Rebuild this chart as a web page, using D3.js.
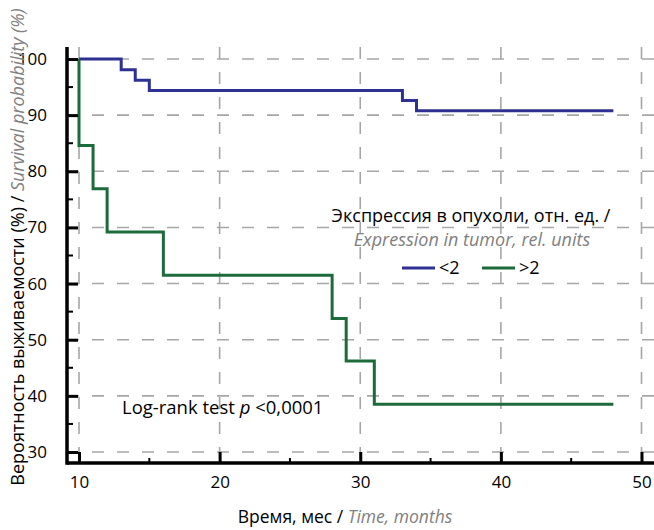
<!DOCTYPE html>
<html><head><meta charset="utf-8">
<script src="https://cdn.jsdelivr.net/npm/d3@7"></script>
<style>body{margin:0;background:#fff}svg{display:block}text{font-family:"Open Sans","Noto Sans",sans-serif}</style>
</head><body><svg id="c" width="654" height="530"></svg>
<script>
// Data
const lowTimes = [10, 13, 14, 15, 33, 34, 48];
const lowSurv  = [100, 98.1, 96.2, 94.4, 92.6, 90.8, 90.8];
const highTimes = [10, 10, 11, 12, 16, 28, 29, 31, 48];
const highSurv  = [100, 84.6, 76.9, 69.2, 61.5, 53.8, 46.2, 38.5, 38.5];
const xTicks = [10, 20, 30, 40, 50];
const yTicks = [30, 40, 50, 60, 70, 80, 90, 100];
const xMinor = [15, 25, 35, 45];
const yMinor = [35, 45, 55, 65, 75, 85, 95];
const seriesNames = ["<2", ">2"];
const colors = ["#2e3192", "#1d6b3a"];

const svg = d3.select("#c");
const x = d3.scaleLinear().domain([10, 50]).range([79, 641.5]);
const y = d3.scaleLinear().domain([30, 100]).range([452, 59]);
const xL = x.invert(67), xR = x.invert(654);
const yB = y.invert(463), yT = y.invert(47);

// grid
const g = svg.append("g");
g.selectAll(".gx").data(xTicks).join("line")
  .attr("x1", d => x(d)).attr("x2", d => x(d)).attr("y1", y(yT)).attr("y2", y(yB))
  .attr("stroke", "#a6a6a6").attr("stroke-width", 1.6).attr("stroke-dasharray", "12,13");
g.selectAll(".gy").data(yTicks).join("line")
  .attr("x1", x(xL)).attr("x2", x(xR)).attr("y1", d => y(d)).attr("y2", d => y(d))
  .attr("stroke", "#a6a6a6").attr("stroke-width", 1.6).attr("stroke-dasharray", "12,13");

// curves
const line = d3.line().x(d => x(d[0])).y(d => y(d[1])).curve(d3.curveStepAfter);
const series = [d3.zip(lowTimes, lowSurv), d3.zip(highTimes, highSurv)];
series.forEach((s, i) => {
  svg.append("path").attr("d", line(s)).attr("fill", "none")
    .attr("stroke", colors[i]).attr("stroke-width", 3);
});

// axes
const ax = svg.append("g").attr("transform", `translate(0,${y(yB)})`)
  .call(d3.axisBottom(x).tickValues(xTicks).tickSize(-11).tickPadding(13).tickFormat(d3.format("d")));
ax.select(".domain").remove();
ax.selectAll(".tick line").attr("stroke", "#000").attr("stroke-width", 3);
ax.selectAll(".tick text").attr("font-size", 17).attr("fill", "#000");
ax.append("g").selectAll("line").data(xMinor).join("line")
  .attr("x1", d => x(d)).attr("x2", d => x(d)).attr("y1", 0).attr("y2", -5)
  .attr("stroke", "#000").attr("stroke-width", 2);

const ay = svg.append("g").attr("transform", `translate(${x(xL)},0)`)
  .call(d3.axisLeft(y).tickValues(yTicks).tickSize(-11).tickPadding(20).tickFormat(d3.format("d")));
ay.select(".domain").remove();
ay.selectAll(".tick line").attr("stroke", "#000").attr("stroke-width", 3);
ay.selectAll(".tick text").attr("font-size", 17).attr("fill", "#000");
ay.append("g").selectAll("line").data(yMinor).join("line")
  .attr("y1", d => y(d)).attr("y2", d => y(d)).attr("x1", 0).attr("x2", 6)
  .attr("stroke", "#000").attr("stroke-width", 2);

svg.append("line").attr("x1", x(xL)).attr("x2", x(xR)).attr("y1", y(yB)).attr("y2", y(yB))
  .attr("stroke", "#000").attr("stroke-width", 3.5);
svg.append("line").attr("x1", x(xL)).attr("x2", x(xL)).attr("y1", y(yT)).attr("y2", y(yB) + 1.75)
  .attr("stroke", "#000").attr("stroke-width", 3.5);

// axis titles
const xt = svg.append("text").attr("x", 345).attr("y", 523).attr("text-anchor", "middle").attr("font-size", 17.5);
xt.append("tspan").attr("fill", "#000").text("Время, мес / ");
xt.append("tspan").attr("fill", "#808080").attr("font-style", "italic").text("Time, months");

const yt = svg.append("text").attr("transform", "translate(24,247) rotate(-90)").attr("text-anchor", "middle").attr("font-size", 18);
yt.append("tspan").attr("fill", "#000").text("Вероятность выживаемости (%) / ");
yt.append("tspan").attr("fill", "#808080").attr("font-style", "italic").text("Survival probability (%)");

// legend
svg.append("text").attr("x", 471).attr("y", 221.5).attr("text-anchor", "middle").attr("font-size", 18)
  .attr("fill", "#000").text("Экспрессия в опухоли, отн. ед. /");
svg.append("text").attr("x", 472).attr("y", 245.5).attr("text-anchor", "middle").attr("font-size", 18)
  .attr("fill", "#808080").attr("font-style", "italic").text("Expression in tumor, rel. units");
const legX = [402, 482];
seriesNames.forEach((n, i) => {
  svg.append("line").attr("x1", legX[i]).attr("x2", legX[i] + 33).attr("y1", 268).attr("y2", 268)
    .attr("stroke", colors[i]).attr("stroke-width", 3);
  svg.append("text").attr("x", legX[i] + 37).attr("y", 274).attr("font-size", 18).attr("fill", "#000").text(n);
});

// annotation
const an = svg.append("text").attr("x", 122).attr("y", 414).attr("font-size", 18.5).attr("fill", "#000");
an.append("tspan").text("Log-rank test ");
an.append("tspan").attr("font-style", "italic").text("p");
an.append("tspan").text(" <0,0001");
</script></body></html>
